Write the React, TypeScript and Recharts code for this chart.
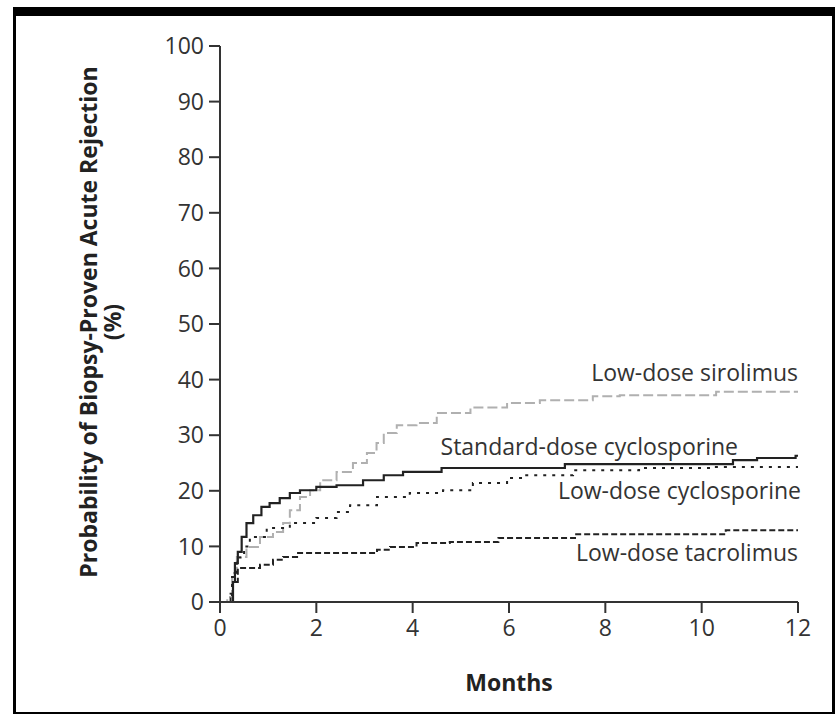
import { LineChart, Line, XAxis, YAxis } from "recharts";

const monthTicks = [0, 2, 4, 6, 8, 10, 12];
const percentTicks = [0, 10, 20, 30, 40, 50, 60, 70, 80, 90, 100];

// Kaplan-Meier curves (months, cumulative %)
const sirolimusMonths = [0, 0.1, 0.15, 0.25, 0.35, 0.55, 0.83, 1.1, 1.31, 1.45, 1.66, 1.87, 2.08, 2.42, 2.76, 3.05, 3.25, 3.4, 3.67, 4.08, 4.5, 5.2, 5.96, 6.64, 7.74, 8.3, 10.3, 12];
const sirolimusValues = [0, 0, 0.9, 5.2, 8.1, 9.9, 11.7, 12.6, 14.2, 16.5, 18.9, 20.1, 21.9, 23.4, 25, 26.8, 28.6, 30.4, 31.8, 32.2, 34, 35, 35.8, 36.3, 37.0, 37.2, 37.8, 37.8];

const standardMonths = [0, 0.15, 0.27, 0.31, 0.37, 0.45, 0.55, 0.69, 0.86, 1.03, 1.24, 1.45, 1.66, 2.0, 2.42, 2.97, 3.4, 3.8, 4.6, 7.16, 10.65, 11.15, 11.95, 12];
const standardValues = [0, 0, 3.6, 7, 9, 11.7, 14.2, 15.6, 17.1, 17.8, 18.7, 19.6, 20.1, 20.7, 21.0, 21.9, 22.8, 23.4, 24.1, 24.8, 25.5, 25.9, 26.3, 26.3];

const lowCycloMonths = [0, 0.15, 0.25, 0.35, 0.5, 0.62, 0.97, 1.45, 2.0, 2.42, 2.7, 3.26, 3.94, 4.63, 5.25, 5.96, 6.3, 7.33, 8.7, 10.2, 12];
const lowCycloValues = [0, 0, 4.5, 8, 10, 11.7, 13.3, 14.2, 15.1, 16.2, 17.4, 18.9, 19.6, 20.1, 21.4, 22.3, 22.8, 23.7, 24.1, 24.3, 24.3];

const tacroMonths = [0, 0.15, 0.22, 0.27, 0.37, 0.55, 0.83, 1.1, 1.31, 1.6, 2.7, 3.26, 3.53, 4.08, 4.77, 5.78, 7.37, 10.5, 12];
const tacroValues = [0, 0, 1.5, 3.6, 6.1, 6.1, 6.7, 7.6, 8.1, 8.8, 8.8, 9.4, 9.9, 10.6, 10.8, 11.5, 12.2, 12.9, 12.9];

function toPoints(months: number[], values: number[]) {
  return months.map((m, i) => ({ m: m, v: values[i] }));
}

const font = "'Open Sans', sans-serif";
const axisColor = "#333";

export default function App() {
  return (
    <div style={{ position: "absolute", left: 0, top: 0, width: 835, height: 714, background: "#fff" }}>
      <div
        style={{
          position: "absolute",
          left: 13,
          top: 7,
          width: 816,
          height: 696,
          borderTop: "9px solid #000",
          borderLeft: "3px solid #000",
          borderBottom: "3px solid #000",
          borderRight: "5px solid #000",
        }}
      />
      <div style={{ position: "absolute", left: 0, top: 0 }}>
        <LineChart width={835} height={714} margin={{ top: 46, right: 37, left: 160, bottom: 82 }}>
          <XAxis
            type="number"
            dataKey="m"
            domain={[0, 12]}
            ticks={monthTicks}
            allowDataOverflow
            tickSize={11}
            tickMargin={7}
            stroke={axisColor}
            strokeWidth={2}
            tick={{ fill: "#333", fontSize: 23, fontFamily: font }}
            height={30}
          />
          <YAxis
            type="number"
            domain={[0, 100]}
            ticks={percentTicks}
            tickSize={11}
            tickMargin={5}
            stroke={axisColor}
            strokeWidth={2}
            tick={{ fill: "#333", fontSize: 23, fontFamily: font }}
            width={60}
          />
          <Line
            data={toPoints(sirolimusMonths, sirolimusValues)}
            dataKey="v"
            type="stepAfter"
            stroke="#b0b0b0"
            strokeWidth={2}
            strokeDasharray="10 4"
            dot={false}
            isAnimationActive={false}
          />
          <Line
            data={toPoints(tacroMonths, tacroValues)}
            dataKey="v"
            type="stepAfter"
            stroke="#222"
            strokeWidth={2}
            strokeDasharray="6 3"
            dot={false}
            isAnimationActive={false}
          />
          <Line
            data={toPoints(lowCycloMonths, lowCycloValues)}
            dataKey="v"
            type="stepAfter"
            stroke="#222"
            strokeWidth={2}
            strokeDasharray="3 6"
            dot={false}
            isAnimationActive={false}
          />
          <Line
            data={toPoints(standardMonths, standardValues)}
            dataKey="v"
            type="stepAfter"
            stroke="#222"
            strokeWidth={2.2}
            dot={false}
            isAnimationActive={false}
          />
          <text x={798} y={381} textAnchor="end" fontSize={23} fontFamily={font} fill="#333">Low-dose sirolimus</text>
          <text x={738} y={455} textAnchor="end" fontSize={23} fontFamily={font} fill="#333">Standard-dose cyclosporine</text>
          <text x={801} y={499} textAnchor="end" fontSize={23} fontFamily={font} fill="#333">Low-dose cyclosporine</text>
          <text x={798} y={561} textAnchor="end" fontSize={23} fontFamily={font} fill="#333">Low-dose tacrolimus</text>
          <text x={509} y={691} textAnchor="middle" fontSize={23} fontWeight="bold" fontFamily={font} fill="#222">Months</text>
          <g transform="translate(97, 322) rotate(-90)">
            <text x={0} y={0} textAnchor="middle" fontSize={23} fontWeight="bold" fontFamily={font} fill="#222">Probability of Biopsy-Proven Acute Rejection</text>
            <text x={0} y={24} textAnchor="middle" fontSize={23} fontWeight="bold" fontFamily={font} fill="#222">(%)</text>
          </g>
        </LineChart>
      </div>
    </div>
  );
}
